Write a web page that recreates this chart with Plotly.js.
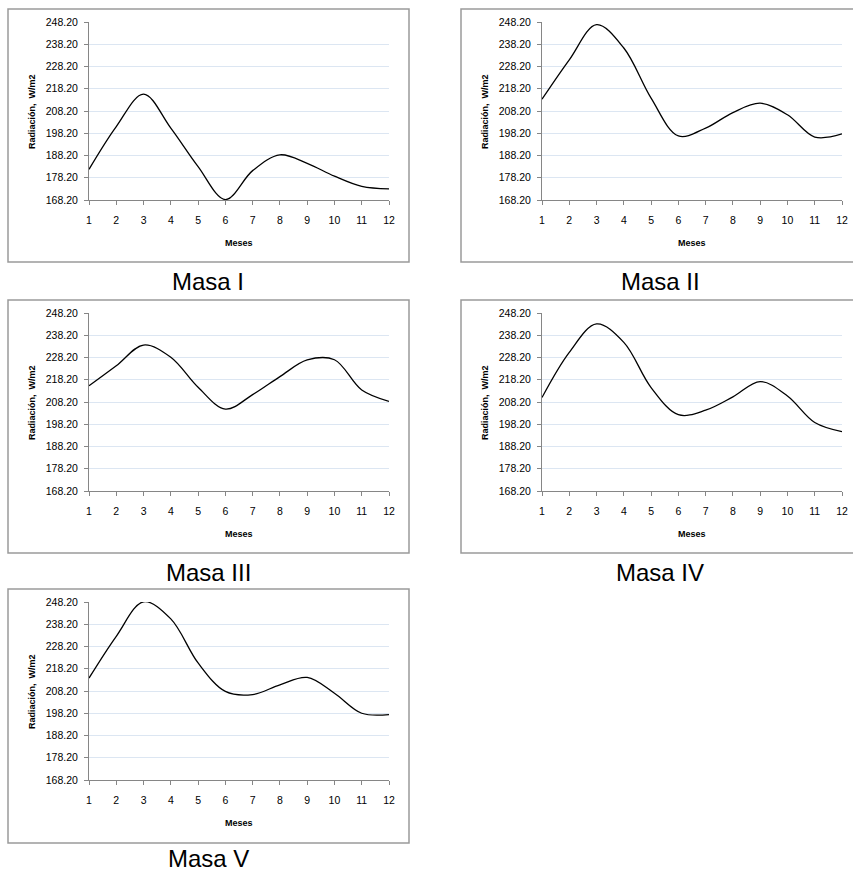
<!DOCTYPE html>
<html>
<head>
<meta charset="utf-8">
<script src="https://cdn.plot.ly/plotly-3.0.1.min.js"></script>
<style>html,body{margin:0;padding:0;background:#fff;}#chart{width:853px;height:874px;}</style>
</head>
<body>
<div id="chart"></div>
<script>
// ---- data ----
const months = [1,2,3,4,5,6,7,8,9,10,11,12];
const masaI   = [182.0, 201.2, 215.8, 200.5, 183.2, 168.4, 181.4, 188.5, 184.7, 178.9, 174.3, 173.2];
const masaII  = [213.5, 231.2, 247.0, 236.5, 214.0, 197.0, 200.5, 207.5, 211.7, 206.5, 196.5, 197.9];
const masaIII = [215.5, 224.5, 233.8, 228.3, 214.8, 205.0, 211.5, 219.6, 227.1, 227.2, 213.6, 208.5];
const masaIV  = [210.2, 230.5, 243.3, 235.0, 214.7, 202.5, 204.5, 210.5, 217.4, 210.9, 199.0, 194.9];
const masaV   = [214.0, 232.8, 248.3, 240.6, 220.8, 208.0, 206.6, 211.0, 214.3, 207.2, 198.2, 197.6];
const seriesNames = ["Masa I", "Masa II", "Masa III", "Masa IV", "Masa V"];
const yTicks = [168.2, 178.2, 188.2, 198.2, 208.2, 218.2, 228.2, 238.2, 248.2];
const yTitle = "Radiación,  W/m2";
const xTitle = "Meses";

// ---- layout helpers (pixel geometry) ----
const W = 853, H = 874;
const px = v => v / W;
const py = v => 1 - v / H;
const cols = [{plot:[89,389], box:[8,409], cap:208}, {plot:[542,842], box:[461,864], cap:660}];
const rows = [{plot:[22,200], box:[9,262], cap:281}, {plot:[313,491], box:[300,553], cap:572}, {plot:[602,780], box:[589,843], cap:858}];
const cells = [[0,0],[0,1],[1,0],[1,1],[2,0]];
const allData = [masaI, masaII, masaIII, masaIV, masaV];

const traces = [];
const layout = {
  width: W, height: H,
  margin: {l:0, r:0, t:0, b:0},
  paper_bgcolor: '#ffffff', plot_bgcolor: '#ffffff',
  showlegend: false,
  shapes: [], annotations: []
};
const tickFont = {family: 'Liberation Sans, Arial, sans-serif', size: 10.5, color: '#000'};
const titleFont = {family: 'Liberation Sans, Arial, sans-serif', size: 9, color: '#000', weight: 'bold'};

cells.forEach(([r, c], i) => {
  const n = i === 0 ? '' : String(i + 1);
  const row = rows[r], col = cols[c];
  traces.push({
    x: months, y: allData[i],
    xaxis: 'x' + n, yaxis: 'y' + n,
    type: 'scatter', mode: 'lines',
    line: {color: '#000', width: 1.3, shape: 'spline', smoothing: 1},
    hoverinfo: 'skip'
  });
  layout['xaxis' + n] = {
    domain: [px(col.plot[0]), px(col.plot[1])],
    anchor: 'y' + n,
    range: [1, 12], tickvals: months, ticktext: months.map(String),
    showgrid: false, zeroline: false,
    showline: true, linecolor: '#868686', linewidth: 1,
    ticks: 'outside', ticklen: 4, tickcolor: '#868686',
    tickfont: tickFont, ticklabelstandoff: 6, fixedrange: true
  };
  layout['yaxis' + n] = {
    domain: [py(row.plot[1]), py(row.plot[0])],
    anchor: 'x' + n,
    range: [168.2, 248.2], tickvals: yTicks, ticktext: yTicks.map(v => v.toFixed(2)),
    showgrid: true, gridcolor: '#dce6f2', gridwidth: 1,
    zeroline: false,
    showline: true, linecolor: '#868686', linewidth: 1,
    ticks: 'outside', ticklen: 4, tickcolor: '#868686',
    tickfont: tickFont, ticklabelstandoff: 4, fixedrange: true
  };
  layout.shapes.push({
    type: 'rect', xref: 'paper', yref: 'paper',
    x0: px(col.box[0]), x1: px(col.box[1]), y0: py(row.box[1]), y1: py(row.box[0]),
    line: {color: '#9a9a9a', width: 1.5}, fillcolor: 'rgba(0,0,0,0)', layer: 'below'
  });
  const midY = (row.plot[0] + row.plot[1]) / 2;
  const midX = (col.plot[0] + col.plot[1]) / 2;
  layout.annotations.push({
    text: yTitle, xref: 'paper', yref: 'paper',
    x: px(col.plot[0] - 57), y: py(midY), textangle: -90,
    showarrow: false, font: titleFont, xanchor: 'center', yanchor: 'middle'
  });
  layout.annotations.push({
    text: xTitle, xref: 'paper', yref: 'paper',
    x: px(midX), y: py(row.plot[1] + 43),
    showarrow: false, font: titleFont, xanchor: 'center', yanchor: 'middle'
  });
  layout.annotations.push({
    text: seriesNames[i], xref: 'paper', yref: 'paper',
    x: px(col.cap), y: py(row.cap),
    showarrow: false, font: {family: 'Liberation Sans, Arial, sans-serif', size: 24, color: '#000'},
    xanchor: 'center', yanchor: 'middle'
  });
});

Plotly.newPlot('chart', traces, layout, {displayModeBar: false, staticPlot: true});
</script>
</body>
</html>
